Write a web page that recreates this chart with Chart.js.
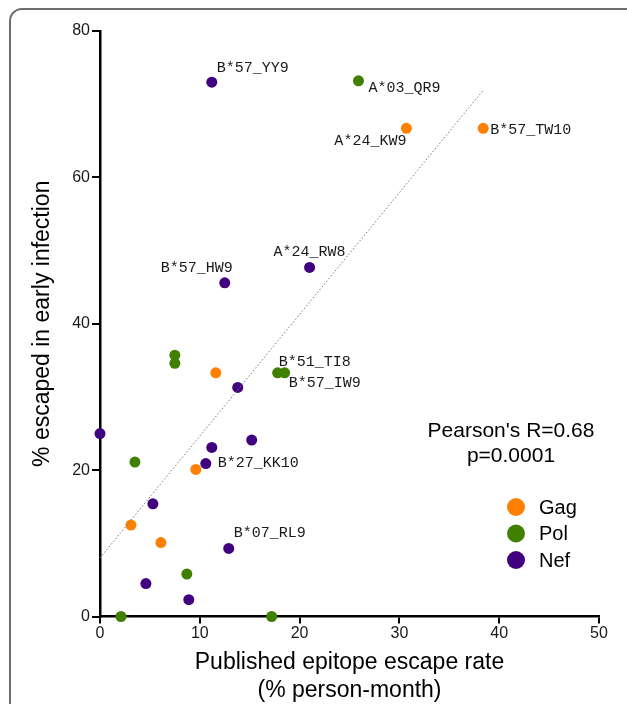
<!DOCTYPE html>
<html>
<head>
<meta charset="utf-8">
<script src="https://cdn.jsdelivr.net/npm/chart.js@4/dist/chart.umd.min.js"></script>
<style>
  html, body { margin: 0; padding: 0; background: #fff; }
  #wrap { width: 627px; height: 704px; position: relative; }
</style>
</head>
<body>
<div id="wrap"><canvas id="c" width="627" height="704"></canvas></div>
<script>
// ---- Data ----
const gagX = [30.7, 38.4, 11.6, 9.6, 3.1, 6.1];
const gagY = [66.7, 66.7, 33.3, 20.1, 12.5, 10.1];
const gagLabels = ['A*24_KW9', 'B*57_TW10', '', '', '', ''];

const polX = [25.9, 7.5, 7.5, 17.8, 18.5, 3.5, 8.7, 2.1, 17.2];
const polY = [73.2, 35.7, 34.6, 33.3, 33.3, 21.1, 5.8, 0, 0];
const polLabels = ['A*03_QR9', '', '', 'B*51_TI8', 'B*57_IW9', '', '', '', ''];

const nefX = [11.2, 21.0, 12.5, 13.8, 0, 15.2, 11.2, 10.6, 5.3, 12.9, 4.6, 8.9];
const nefY = [73.0, 47.7, 45.6, 31.3, 25.0, 24.1, 23.1, 20.9, 15.4, 9.3, 4.5, 2.3];
const nefLabels = ['B*57_YY9', 'A*24_RW8', 'B*57_HW9', '', '', '', '', 'B*27_KK10', '', 'B*07_RL9', '', ''];

const fitX = [0, 38.4];
const fitY = [8.0, 71.9];

const seriesNames = ['Gag', 'Pol', 'Nef'];
const xTicks = [0, 10, 20, 30, 40, 50];
const yTicks = [0, 20, 40, 60, 80];
const statLines = ["Pearson's R=0.68", 'p=0.0001'];
const xTitle = ['Published epitope escape rate', '(% person-month)'];
const yTitle = '% escaped in early infection';

// ---- Styling ----
const colors = ['#FF8000', '#408000', '#400080'];
const SANS = '"Liberation Sans", Arial, Helvetica, sans-serif';
const MONO = '"Liberation Mono", "Courier New", monospace';

function pts(xs, ys) { return xs.map((x, i) => ({ x: x, y: ys[i] })); }

// label placement (pixel offsets from point center): [dx, dy, align]
const labelPlacement = {
  'A*24_KW9': [0, 13, 'right'],
  'B*57_TW10': [7, 2, 'left'],
  'A*03_QR9': [10, 7, 'left'],
  'B*51_TI8': [1, -11, 'left'],
  'B*57_IW9': [4, 10, 'left'],
  'B*57_YY9': [5, -14, 'left'],
  'A*24_RW8': [0, -15, 'center'],
  'B*57_HW9': [8, -15, 'right'],
  'B*27_KK10': [12, -1, 'left'],
  'B*07_RL9': [5, -15, 'left']
};

const annotPlugin = {
  id: 'annot',
  beforeDraw(chart) {
    const ctx = chart.ctx;
    ctx.save();
    ctx.strokeStyle = '#6e6e6e';
    ctx.lineWidth = 2;
    ctx.beginPath();
    ctx.moveTo(700, 9);
    ctx.lineTo(22, 9);
    ctx.arcTo(10, 9, 10, 21, 12);
    ctx.lineTo(10, 760);
    ctx.stroke();
    ctx.restore();
  },
  afterDatasetsDraw(chart) {
    const ctx = chart.ctx;
    const xs = chart.scales.x, ys = chart.scales.y;
    ctx.save();
    // point labels
    ctx.font = '15px ' + MONO;
    ctx.fillStyle = '#1a1a1a';
    ctx.textBaseline = 'middle';
    chart.data.datasets.forEach((ds) => {
      if (!ds.pointLabels) return;
      ds.data.forEach((p, i) => {
        const name = ds.pointLabels[i];
        if (!name) return;
        const pl = labelPlacement[name] || [6, 0, 'left'];
        ctx.textAlign = pl[2];
        ctx.fillText(name, xs.getPixelForValue(p.x) + pl[0], ys.getPixelForValue(p.y) + pl[1]);
      });
    });
    // statistics text
    ctx.font = '21px ' + SANS;
    ctx.fillStyle = '#000';
    ctx.textAlign = 'center';
    statLines.forEach((t, i) => ctx.fillText(t, 511, 431 + i * 25));
    // legend
    ctx.font = '20px ' + SANS;
    ctx.textAlign = 'left';
    seriesNames.forEach((n, i) => {
      const cy = 507 + i * 26.5;
      ctx.fillStyle = colors[i];
      ctx.beginPath();
      ctx.arc(516, cy, 9, 0, Math.PI * 2);
      ctx.fill();
      ctx.fillStyle = '#000';
      ctx.fillText(n, 539, cy + 1);
    });
    ctx.restore();
  }
};

const scatterDs = (name, xs, ys, labels, color) => ({
  type: 'scatter',
  label: name,
  data: pts(xs, ys),
  pointLabels: labels,
  backgroundColor: color,
  borderColor: color,
  borderWidth: 0,
  pointRadius: 5.5,
  pointHoverRadius: 5.5,
  clip: false
});

new Chart(document.getElementById('c'), {
  type: 'scatter',
  data: {
    datasets: [
      {
        type: 'line',
        label: 'fit',
        data: pts(fitX, fitY),
        borderColor: '#777',
        borderWidth: 1,
        borderDash: [1.5, 2],
        pointRadius: 0,
        fill: false,
        clip: false
      },
      scatterDs(seriesNames[0], gagX, gagY, gagLabels, colors[0]),
      scatterDs(seriesNames[1], polX, polY, polLabels, colors[1]),
      scatterDs(seriesNames[2], nefX, nefY, nefLabels, colors[2])
    ]
  },
  options: {
    responsive: false,
    animation: false,
    layout: { padding: { left: 10, top: 31, right: 28, bottom: 0 } },
    plugins: { legend: { display: false }, tooltip: { enabled: false } },
    scales: {
      x: {
        type: 'linear', min: 0, max: 50,
        afterBuildTicks: (s) => { s.ticks = xTicks.map(v => ({ value: v })); },
        afterFit: (s) => { s.height = 87.5; },
        ticks: { font: { family: SANS, size: 16 }, color: '#1a1a1a', padding: 0, maxRotation: 0 },
        grid: { drawOnChartArea: false, drawTicks: true, tickLength: 7, color: '#000', lineWidth: 2 },
        border: { color: '#000', width: 2.5 },
        title: { display: true, text: xTitle, font: { family: SANS, size: 23, lineHeight: 1.2 }, color: '#000', padding: { top: 0, bottom: 0 } }
      },
      y: {
        type: 'linear', min: 0, max: 80,
        afterBuildTicks: (s) => { s.ticks = yTicks.map(v => ({ value: v })); },
        afterFit: (s) => { s.width = 90; },
        ticks: { font: { family: SANS, size: 16 }, color: '#1a1a1a', padding: 2 },
        grid: { drawOnChartArea: false, drawTicks: true, tickLength: 8, color: '#000', lineWidth: 2 },
        border: { color: '#000', width: 2.5 },
        title: { display: true, text: yTitle, font: { family: SANS, size: 23, lineHeight: 1.2 }, color: '#000', padding: { top: 19, bottom: 0 } }
      }
    }
  },
  plugins: [annotPlugin]
});
</script>
</body>
</html>
